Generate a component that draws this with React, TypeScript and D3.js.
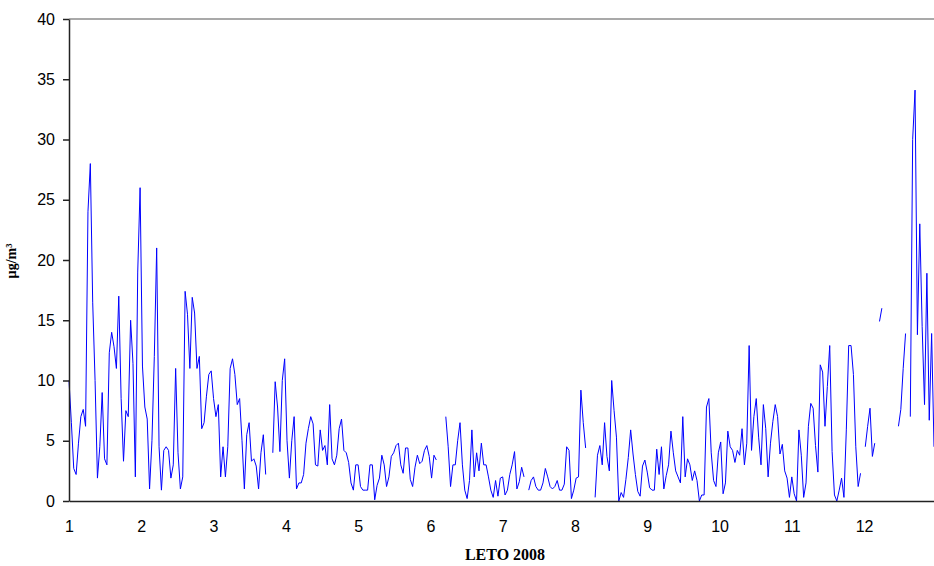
import React, { useEffect, useRef } from 'react';
import * as d3 from 'd3';

// daily values, µg/m3 (null = no measurement)
const m01 = [10, 6.5, 2.7, 2.2, 4.8, 7, 7.6, 6.2, 24, 28, 16.5, 10, 1.9, 4.5, 9, 3.5, 3, 12.3, 14, 12.8, 11, 17, 8.5, 3.3, 7.5, 7, 15, 11.4, 2, 19, 26];
const m02 = [11.2, 7.8, 6.8, 1, 5, 12, 21, 4.5, 0.9, 4.2, 4.5, 4.2, 1.9, 3, 11, 4, 1, 2, 17.4, 15.5, 11, 16.9, 15.6, 11, 12, 6, 6.5, 8.7, 10.5];
const m03 = [10.8, 8.5, 7, 8, 2, 4.5, 2, 4.5, 11, 11.8, 10.5, 8, 8.5, 5, 1, 5.5, 6.5, 3.3, 3.5, 2.9, 1, 4, 5.5, 2.2, null, null, 4, 9.9, 7.8, 4.1, 10];
const m04 = [11.8, 5, 1.9, 5, 7, 1, 1.5, 1.5, 2.2, 4.8, 6, 7, 6.4, 3, 2.9, 5.9, 4.2, 4.6, 3, 8, 3.5, 3, 3.8, 6, 6.8, 4.2, 4, 3.2, 1.5, 0.9];
const m05 = [3, 3, 1.2, 0.9, 0.9, 0.9, 3, 3, 0.1, 1.3, 1.9, 3.8, 3, 1.2, 2, 3.7, 4, 4.6, 4.8, 3, 2.3, 4.4, 4.4, 1.8, 1.2, 2.8, 3.8, 3.1, 3.3, 4.2, 4.6];
const m06 = [3.7, 1.9, 3.8, 3.4, null, null, null, 7, 4.5, 1.2, 3, 3, 5, 6.5, 3, 0.9, 0.2, 1.7, 5.9, 2, 4, 2.5, 4.8, 3, 3, 2, 0.9, 0.3, 1.7, 0.4];
const m07 = [1.9, 2, 0.5, 0.9, 2.2, 3, 4.1, 1, 1.6, 2.8, 2, null, 0.9, 1.7, 2, 1.2, 0.9, 0.9, 1.5, 2.7, 2, 1.2, 1, 1.2, 1.7, 0.9, 0.9, 1.4, 4.5, 4.2, 0.2];
const m08 = [0.9, 1.9, 2, 9.2, 6.5, 4.4, null, null, null, 0.3, 3.8, 4.6, 3, 6.5, 3.7, 2.5, 10, 7.5, 5.3, 0, 0.7, 0.3, 1.8, 3.6, 5.9, 3.9, 2.2, 0.8, 0.4, 2.9, 3.4];
const m09 = [2.4, 1.1, 0.9, 0.9, 4.3, 2.2, 4.5, 1, 2.1, 3, 5.8, 4, 2.5, 2, 1.5, 7, 2, 3.5, 3, 1.7, 2.5, 1.7, 0, 0.5, 0.5, 7.8, 8.5, 4, 1.7, 1.2];
const m10 = [4, 4.9, 0.6, 1.5, 5.8, 4.5, 4.2, 3.2, 4.2, 3.8, 6, 3, 4.8, 12.9, 4.2, 7, 8.5, 5.3, 3, 8, 6, 2, 4.8, 6.6, 8, 7, 3.9, 4.7, 2.5, 1.9, 0.3];
const m11 = [2, 0.6, 0, 5.9, 3.8, 0.3, 1.5, 6.2, 8.1, 7.7, 4.6, 2.4, 11.3, 10.7, 6.2, 9.5, 12.9, 4.1, 0.5, 0, 0.9, 1.9, 0.3, 5.9, 12.9, 12.9, 10.5, 4.5, 1.2, 2.3];
const m12 = [null, 4.5, 6.2, 7.7, 3.7, 4.8, null, 14.9, 16, null, null, null, null, null, null, 6.2, 7.6, 11, 13.9, null, 7, 30, 34.1, 13.8, 23, 14.5, 8, 18.9, 6.7, 13.9, 4.5];

const monthLabels = ['1', '2', '3', '4', '5', '6', '7', '8', '9', '10', '11', '12'];
const yTicks = [0, 5, 10, 15, 20, 25, 30, 35, 40];

const values: (number | null)[] = [m01, m02, m03, m04, m05, m06, m07, m08, m09, m10, m11, m12].flat();

const W = 934;
const H = 566;
const margin = { left: 69, right: 0, top: 19, bottom: 65 };

const App = () => {
  const xAxisRef = useRef<SVGGElement>(null);
  const yAxisRef = useRef<SVGGElement>(null);

  const xScale = d3.scaleLinear().domain([0, values.length - 1]).range([margin.left, W - margin.right]);
  const yScale = d3.scaleLinear().domain([0, 40]).range([H - margin.bottom, margin.top]);

  const line = d3
    .line<number | null>()
    .defined(v => v !== null)
    .x((_, i) => xScale(i))
    .y(v => yScale(v as number));

  useEffect(() => {
    const monthStep = values.length / 12;
    const xAxis = d3
      .axisBottom(xScale)
      .tickValues(monthLabels.map((_, i) => i * monthStep))
      .tickFormat((_, i) => monthLabels[i])
      .tickSize(0)
      .tickSizeOuter(0)
      .tickPadding(20);
    const gx = d3.select(xAxisRef.current!).call(xAxis);
    gx.select('.domain').attr('stroke', '#222').attr('stroke-width', 1.5);
    gx.selectAll('text').attr('font-family', 'Liberation Sans, Arial').attr('font-size', 16).attr('fill', '#000');

    const yAxis = d3.axisLeft(yScale).tickValues(yTicks).tickSize(6).tickSizeOuter(0).tickPadding(8);
    const gy = d3.select(yAxisRef.current!).call(yAxis);
    gy.select('.domain').attr('stroke', '#222').attr('stroke-width', 1.5);
    gy.selectAll('.tick line').attr('stroke', '#222').attr('stroke-width', 1.5);
    gy.selectAll('text').attr('font-family', 'Liberation Sans, Arial').attr('font-size', 16).attr('fill', '#000');
  }, []);

  return (
    <svg width={W} height={H} style={{ position: 'absolute', left: 0, top: 0, background: '#fff' }}>
      <line x1={margin.left} x2={W} y1={yScale(40)} y2={yScale(40)} stroke="#8c8c8c" strokeWidth={1.5} />
      <path d={line(values) || ''} fill="none" stroke="#0000ff" strokeWidth={1} />
      <g ref={xAxisRef} transform={`translate(0, ${yScale(0)})`} />
      <g ref={yAxisRef} transform={`translate(${margin.left}, 0)`} />
      <text
        transform={`translate(16, 261) rotate(-90)`}
        textAnchor="middle"
        fontFamily="Liberation Serif, Times New Roman"
        fontWeight="bold"
        fontSize={14}
      >
        µg/m³
      </text>
      <text x={505} y={560} textAnchor="middle" fontFamily="Liberation Serif, Times New Roman" fontWeight="bold" fontSize={16}>
        LETO 2008
      </text>
    </svg>
  );
};

export default App;
